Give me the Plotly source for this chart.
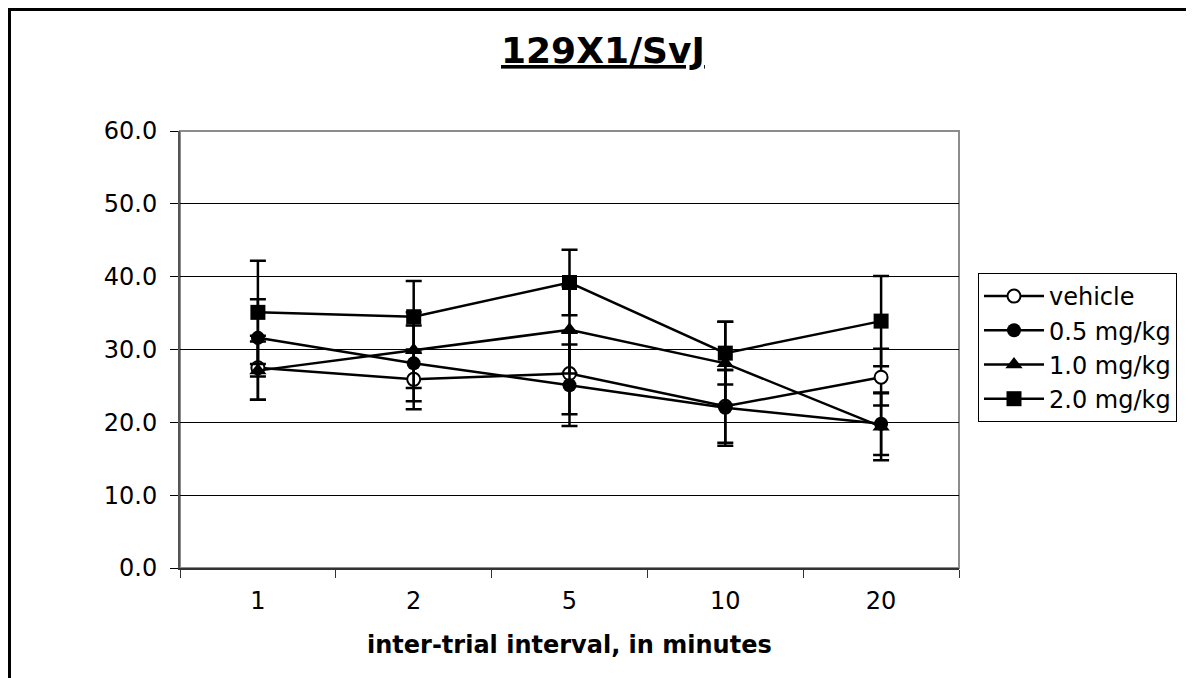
import plotly.graph_objects as go

categories = ["1", "2", "5", "10", "20"]
series_names = ["vehicle", "0.5 mg/kg", "1.0 mg/kg", "2.0 mg/kg"]
vehicle = [27.5, 25.9, 26.7, 22.2, 26.2]
vehicle_err = [4.4, 4.1, 5.6, 5.0, 3.9]
dose_05 = [31.6, 28.1, 25.1, 22.0, 19.8]
dose_05_err = [5.3, 5.2, 5.6, 5.2, 4.3]
dose_10 = [27.1, 29.9, 32.7, 28.1, 19.4]
dose_10_err = [4.0, 5.2, 6.0, 5.7, 4.6]
dose_20 = [35.1, 34.5, 39.2, 29.5, 33.9]
dose_20_err = [7.1, 4.9, 4.5, 4.3, 6.2]
y_ticks = [0, 10, 20, 30, 40, 50, 60]

FONT = "DejaVu Sans, Verdana, sans-serif"

# the page body adds an 8px offset; work in page pixels and subtract it
OFF = 8
W, H = 1194 - OFF, 678 - OFF
L, R, T, B = 180 - OFF, 959 - OFF, 131 - OFF, 568 - OFF
pw, ph = R - L, B - T


def px_x(p):
    return (p - OFF - L) / pw


def px_y(p):
    return (B - (p - OFF)) / ph


styles = [
    dict(symbol="circle", color="white", size=13, line=dict(color="black", width=2)),
    dict(symbol="circle", color="black", size=14, line=dict(color="black", width=0)),
    dict(symbol="triangle-up", color="black", size=15, line=dict(color="black", width=0)),
    dict(symbol="square", color="black", size=15, line=dict(color="black", width=0)),
]
values = [vehicle, dose_05, dose_10, dose_20]
errors = [vehicle_err, dose_05_err, dose_10_err, dose_20_err]

fig = go.Figure()
for name, vals, errs, st in zip(series_names, values, errors, styles):
    fig.add_trace(go.Scatter(
        x=categories, y=vals, name=name, mode="lines+markers",
        line=dict(color="black", width=2.5),
        marker=st,
        error_y=dict(type="data", array=errs, visible=True, color="black",
                     thickness=2.5, width=8),
    ))

fig.update_layout(
    width=W, height=H,
    margin=dict(l=L, r=W - R, t=T, b=H - B, autoexpand=False),
    paper_bgcolor="white", plot_bgcolor="white",
    font=dict(family=FONT, size=24, color="black"),
    showlegend=True,
    legend=dict(
        x=px_x(978), y=px_y(273), xanchor="left", yanchor="top",
        bordercolor="black", borderwidth=1, bgcolor="white",
        font=dict(family=FONT, size=24, color="black"),
        itemwidth=60, tracegroupgap=0,
    ),
    xaxis=dict(
        type="category", categoryorder="array", categoryarray=categories,
        range=[-0.5, 4.5], showgrid=False, zeroline=False,
        showline=True, linecolor="#333333", linewidth=2,
        ticks="outside", tickson="boundaries", ticklen=8, tickwidth=1,
        tickcolor="#333333", ticklabelstandoff=10,
        tickfont=dict(family=FONT, size=24, color="black"),
    ),
    yaxis=dict(
        range=[0, 60], tickvals=y_ticks, tickformat=".1f",
        showgrid=True, gridcolor="black", gridwidth=1, zeroline=False,
        showline=True, linecolor="#555555", linewidth=2,
        ticks="outside", ticklen=8, tickwidth=1, tickcolor="black",
        ticklabelstandoff=8,
        tickfont=dict(family=FONT, size=24, color="black"),
    ),
    shapes=[
        dict(type="rect", xref="paper", yref="paper", x0=0, x1=1, y0=0, y1=1,
             line=dict(color="#8c8c8c", width=2), layer="between"),
        dict(type="rect", xref="paper", yref="paper",
             x0=px_x(9.5), x1=px_x(1230), y0=px_y(720), y1=px_y(9.5),
             line=dict(color="black", width=3), fillcolor="rgba(0,0,0,0)"),
    ],
    annotations=[
        dict(text="<b><u>129X1/SvJ</u></b>", xref="paper", yref="paper",
             x=px_x(603), y=px_y(50), xanchor="center", yanchor="middle",
             showarrow=False, font=dict(family=FONT, size=36, color="black")),
        dict(text="<b>inter-trial interval, in minutes</b>", xref="paper", yref="paper",
             x=px_x(569), y=px_y(645), xanchor="center", yanchor="middle",
             showarrow=False, font=dict(family=FONT, size=24, color="black")),
    ],
)

fig.write_html("out.html")
